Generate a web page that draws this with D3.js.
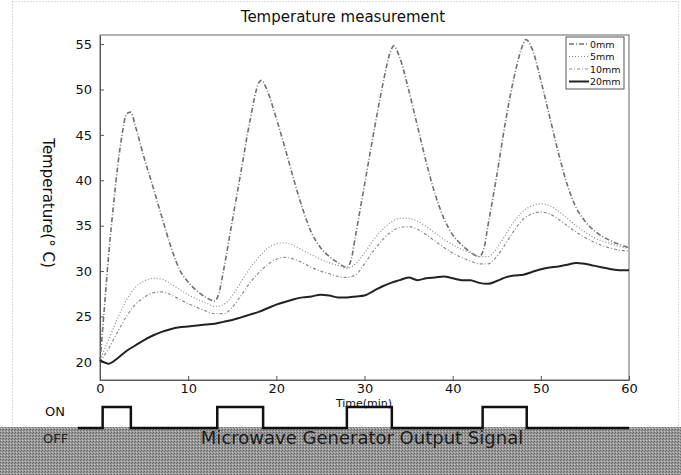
<!DOCTYPE html>
<html>
<head>
<title>Temperature measurement</title>
<script src="https://cdnjs.cloudflare.com/ajax/libs/d3/7.8.5/d3.min.js"></script>
<style>
  body { margin: 0; background: #fff; }
  text { font-family: "DejaVu Sans", sans-serif; }
</style>
</head>
<body>
<script>
// time axis (min) for the 0mm curve, finer around the peaks
var time0 = [0, 0.5, 1, 1.5, 2, 2.5, 3, 3.5, 4, 5, 6, 7, 8, 9, 10, 11, 12, 13, 13.5, 14, 15, 16, 17, 18, 18.3, 19, 20, 21, 22, 23, 24, 25, 26, 27, 28, 28.5, 29, 30, 31, 32, 33, 33.3, 34, 35, 36, 37, 38, 39, 40, 41, 42, 43, 43.5, 44, 45, 46, 47, 48, 48.3, 49, 50, 51, 52, 53, 54, 55, 56, 57, 58, 59, 60];
var temp0mm = [20, 26, 32, 37, 41.5, 45, 47.3, 47.5, 46, 42.5, 39.3, 36, 32.8, 30.2, 28.8, 27.8, 27.1, 26.7, 27.6, 30, 35.5, 41, 46.5, 50.7, 51, 49.8, 46.8, 43.5, 40, 36.8, 34.2, 32.6, 31.6, 30.9, 30.4, 31.3, 34, 39.5, 45, 50.2, 54.3, 54.8, 53.5, 50, 46, 42, 38.5, 35.8, 34, 32.9, 32.1, 31.6, 32.3, 35, 40.5, 46.5, 51.5, 55, 55.5, 54.5, 51, 47, 43, 39.5, 37, 35.5, 34.5, 33.8, 33.3, 32.9, 32.6];

// one-minute samples for the other depths
var time = d3.range(0, 61);
var temp5mm = [20.2, 22.5, 24.8, 26.8, 28.2, 28.9, 29.2, 29.1, 28.6, 28, 27.4, 26.9, 26.5, 26.1, 26.3, 27.3, 28.8, 30.3, 31.5, 32.5, 33, 33.1, 32.8, 32.3, 31.8, 31.3, 30.9, 30.6, 30.3, 30.8, 32, 33.4, 34.5, 35.4, 35.8, 35.8, 35.5, 34.9, 34.2, 33.5, 32.9, 32.4, 32, 31.6, 31.6, 32.5, 34, 35.5, 36.6, 37.2, 37.4, 37.2, 36.6, 35.8, 35, 34.3, 33.7, 33.3, 33, 32.7, 32.5];
var temp10mm = [20, 21.5, 23.3, 25, 26.3, 27.1, 27.6, 27.7, 27.4, 26.9, 26.4, 26, 25.6, 25.3, 25.3, 26, 27.3, 28.7, 29.8, 30.7, 31.3, 31.5, 31.3, 30.9, 30.4, 30, 29.7, 29.4, 29.3, 29.6, 30.8, 32.2, 33.4, 34.3, 34.8, 34.9, 34.6, 34, 33.3, 32.6, 32, 31.5, 31.1, 30.8, 30.8, 31.6, 33, 34.5, 35.7, 36.3, 36.5, 36.3, 35.7, 35, 34.3, 33.7, 33.2, 32.8, 32.5, 32.3, 32.2];
var temp20mm = [20.2, 19.8, 20.4, 21.2, 21.8, 22.4, 22.9, 23.3, 23.6, 23.8, 23.9, 24, 24.1, 24.2, 24.4, 24.6, 24.9, 25.2, 25.5, 25.9, 26.3, 26.6, 26.9, 27.1, 27.2, 27.4, 27.3, 27.1, 27.1, 27.2, 27.3, 27.8, 28.3, 28.7, 29, 29.3, 29, 29.2, 29.3, 29.4, 29.2, 29, 29, 28.7, 28.6, 28.9, 29.3, 29.5, 29.6, 29.9, 30.2, 30.4, 30.5, 30.7, 30.9, 30.8, 30.6, 30.4, 30.2, 30.1, 30.1];

var seriesNames = ["0mm", "5mm", "10mm", "20mm"];
var xTicks = [0, 10, 20, 30, 40, 50, 60];
var yTicks = [20, 25, 30, 35, 40, 45, 50, 55];

// microwave generator on/off periods (min)
var pulseOn = [0.3, 13.3, 28, 43.4];
var pulseOff = [3.5, 18.5, 33.1, 48.4];

var W = 681, H = 475;
var pLeft = 100, pRight = 629, pTop = 35, pBottom = 380;

var svg = d3.select("body").append("svg")
  .attr("width", W).attr("height", H);

var x = d3.scaleLinear().domain([0, 60]).range([pLeft, pRight]);
var y = d3.scaleLinear().domain([18, 56]).range([pBottom, pTop]);

// faint scan border
svg.append("rect")
  .attr("x", 12.5).attr("y", 1.5).attr("width", 666).attr("height", 428)
  .attr("fill", "none").attr("stroke", "#bbb").attr("stroke-width", 1)
  .attr("stroke-dasharray", "1,2");

// plot frame
svg.append("rect")
  .attr("x", pLeft).attr("y", pTop).attr("width", pRight - pLeft).attr("height", pBottom - pTop)
  .attr("fill", "none").attr("stroke", "#666").attr("stroke-width", 1);

var xAxis = d3.axisBottom(x).tickValues(xTicks).tickSizeInner(-4).tickSizeOuter(0).tickPadding(4);
var yAxis = d3.axisLeft(y).tickValues(yTicks).tickSizeInner(-4).tickSizeOuter(0).tickPadding(8);

var gx = svg.append("g").attr("transform", "translate(0," + pBottom + ")").call(xAxis);
var gy = svg.append("g").attr("transform", "translate(" + pLeft + ",0)").call(yAxis);
[gx, gy].forEach(function(g) {
  g.select(".domain").attr("stroke", "#555");
  g.selectAll(".tick line").attr("stroke", "#555");
  g.selectAll(".tick text").attr("fill", "#111").style("font-size", "13px")
    .style("font-family", "'DejaVu Sans', sans-serif");
});

// title and labels
svg.append("text").attr("x", 343).attr("y", 22).attr("text-anchor", "middle")
  .style("font-size", "15px").attr("fill", "#111").text("Temperature measurement");
svg.append("text").attr("x", 364).attr("y", 407).attr("text-anchor", "middle")
  .style("font-size", "11px").attr("fill", "#111").text("Time(min)");
svg.append("text").attr("transform", "translate(43,203) rotate(90)").attr("text-anchor", "middle")
  .style("font-size", "15px").attr("fill", "#111").text("Temperature(° C)");

// curves
var styles = [
  { t: time0, v: temp0mm, stroke: "#707070", width: 1.6, dash: "5,2,1,2" },
  { t: time, v: temp5mm, stroke: "#8a8a8a", width: 1.2, dash: "1,2" },
  { t: time, v: temp10mm, stroke: "#8a8a8a", width: 1.2, dash: "3,2,1,2" },
  { t: time, v: temp20mm, stroke: "#222", width: 2, dash: null }
];

var line = d3.line()
  .x(function(d) { return x(d[0]); })
  .y(function(d) { return y(d[1]); })
  .curve(d3.curveMonotoneX);

styles.forEach(function(s) {
  var pts = s.t.map(function(t, i) { return [t, s.v[i]]; });
  svg.append("path").datum(pts)
    .attr("d", line)
    .attr("fill", "none")
    .attr("stroke", s.stroke)
    .attr("stroke-width", s.width)
    .attr("stroke-dasharray", s.dash);
});

// legend
var lg = svg.append("g").attr("transform", "translate(566,37)");
lg.append("rect").attr("width", 58).attr("height", 52)
  .attr("fill", "#fff").attr("stroke", "#555").attr("stroke-width", 1);
seriesNames.forEach(function(name, i) {
  var yy = 7 + i * 12.5;
  lg.append("line").attr("x1", 3).attr("x2", 23).attr("y1", yy).attr("y2", yy)
    .attr("stroke", styles[i].stroke).attr("stroke-width", styles[i].width)
    .attr("stroke-dasharray", styles[i].dash);
  lg.append("text").attr("x", 24).attr("y", yy + 3.5)
    .style("font-size", "9.5px").attr("fill", "#111").text(name);
});

// bottom band: microwave generator signal
var defs = svg.append("defs");
var pat = defs.append("pattern").attr("id", "halftone")
  .attr("width", 3).attr("height", 3).attr("patternUnits", "userSpaceOnUse");
pat.append("rect").attr("width", 3).attr("height", 3).attr("fill", "#9a9a9a");
pat.append("rect").attr("width", 1).attr("height", 1).attr("fill", "#5e5e5e");
pat.append("rect").attr("x", 2).attr("y", 1).attr("width", 1).attr("height", 1).attr("fill", "#6e6e6e");
pat.append("rect").attr("x", 1).attr("y", 2).attr("width", 1).attr("height", 1).attr("fill", "#c4c4c4");

svg.append("rect").attr("x", 0).attr("y", 427).attr("width", W).attr("height", H - 427)
  .attr("fill", "url(#halftone)");

var ySig = d3.scaleOrdinal().domain(["off", "on"]).range([428, 407]);
var sig = [[-2.5, "off"]];
pulseOn.forEach(function(t, i) {
  sig.push([t, "off"], [t, "on"], [pulseOff[i], "on"], [pulseOff[i], "off"]);
});
sig.push([60, "off"]);

svg.append("path")
  .datum(sig)
  .attr("d", d3.line().x(function(d) { return x(d[0]); }).y(function(d) { return ySig(d[1]); }))
  .attr("fill", "none").attr("stroke", "#111").attr("stroke-width", 2.5);

svg.append("text").attr("x", 45).attr("y", 416)
  .style("font-size", "13px").attr("fill", "#111").text("ON");
svg.append("text").attr("x", 43).attr("y", 443)
  .style("font-size", "13px").attr("fill", "#222").text("OFF");
svg.append("text").attr("x", 362).attr("y", 444).attr("text-anchor", "middle")
  .style("font-size", "18px").attr("fill", "#1a1a1a").text("Microwave Generator Output Signal");
</script>
</body>
</html>
